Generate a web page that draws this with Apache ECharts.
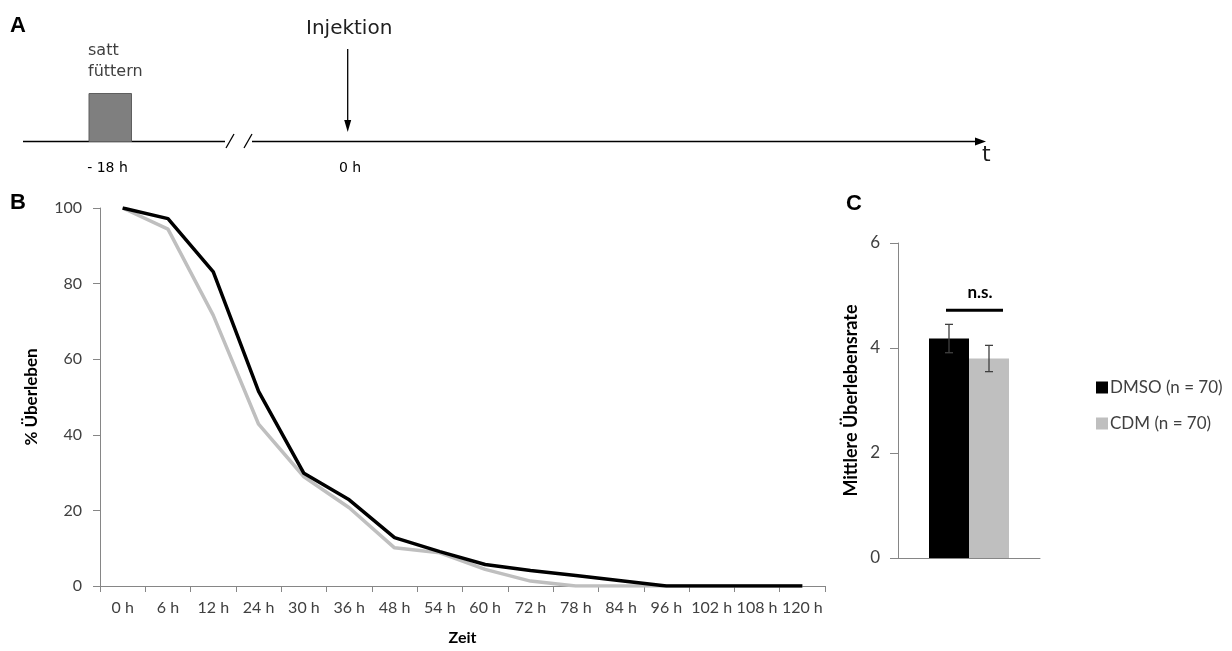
<!DOCTYPE html>
<html><head><meta charset="utf-8">
<script src="https://cdn.jsdelivr.net/npm/echarts@6/dist/echarts.min.js"></script>
<style>html,body{margin:0;padding:0;background:#fff}#c{width:1232px;height:651px}</style>
</head><body><div id="c"></div>
<script>
// ---- data ----
const timeLabels = ['0 h','6 h','12 h','24 h','30 h','36 h','48 h','54 h','60 h','72 h','78 h','84 h','96 h','102 h','108 h','120 h'];
const dmsoSurvival = [100, 97.2, 83.1, 51.5, 29.8, 22.8, 12.8, 9.1, 5.7, 4.1, 2.8, 1.4, 0, 0, 0, 0];
const cdmSurvival  = [100, 94.4, 71.6, 42.8, 28.9, 20.7, 10.1, 8.8, 4.4, 1.3, 0, 0, 0, 0, 0, 0];
const groupNames = ['DMSO (n = 70)', 'CDM (n = 70)'];
const meanSurvival = [4.18, 3.80];
const meanError = [0.27, 0.25];
const sigLevel = 4.72;
const sigLabel = 'n.s.';

// ---- styles ----
const BLACK = '#000000', GRAY = '#bfbfbf', AXIS = '#868686', LABEL = '#404040';
const LFONT = 'Lato, "Open Sans", sans-serif';
const BAR_W = 40;

function errRender(offset) {
  return function (params, api) {
    const x = api.coord([api.value(0), 0])[0] + offset;
    const hi = api.coord([api.value(0), api.value(1) + api.value(2)])[1];
    const lo = api.coord([api.value(0), api.value(1) - api.value(2)])[1];
    const st = {stroke: '#404040', lineWidth: 1.3};
    return {type: 'group', children: [
      {type: 'line', shape: {x1: x, y1: hi, x2: x, y2: lo}, style: st},
      {type: 'line', shape: {x1: x - 4, y1: hi, x2: x + 4, y2: hi}, style: st},
      {type: 'line', shape: {x1: x - 4, y1: lo, x2: x + 4, y2: lo}, style: st}
    ]};
  };
}
function sigRender(params, api) {
  const p = api.coord([api.value(0), api.value(1)]);
  const t = api.coord([api.value(0), api.value(1) + 0.34]);
  return {type: 'group', children: [
    {type: 'line', shape: {x1: p[0] - 23, y1: p[1], x2: p[0] + 34, y2: p[1]}, style: {stroke: BLACK, lineWidth: 3}},
    {type: 'text', style: {text: sigLabel, x: p[0] + 11, y: t[1], align: 'center', verticalAlign: 'middle',
      font: 'bold 17px ' + LFONT, fill: BLACK}}
  ]};
}

const chart = echarts.init(document.getElementById('c'), null, {renderer: 'canvas'});
const A = 'DejaVu Sans, sans-serif';
const option = {
  backgroundColor: '#fff',
  animation: false,
  textStyle: {fontFamily: LFONT},
  legend: {
    data: groupNames, orient: 'vertical', left: 1091, top: 374,
    itemWidth: 12, itemHeight: 12, itemGap: 19, icon: 'rect',
    textStyle: {fontSize: 17, color: LABEL, fontFamily: LFONT, padding: [0, 0, 0, -3]}
  },
  grid: [
    {left: 100, top: 208, width: 725, height: 379, containLabel: false},
    {left: 898, top: 243, width: 142, height: 315, containLabel: false}
  ],
  xAxis: [
    {type: 'category', gridIndex: 0, data: timeLabels, boundaryGap: true,
     name: 'Zeit', nameLocation: 'middle', nameGap: 44,
     nameTextStyle: {fontWeight: 'bold', fontSize: 16, color: BLACK, fontFamily: LFONT},
     axisLine: {lineStyle: {color: AXIS, width: 1}},
     axisTick: {show: true, length: 6, lineStyle: {color: AXIS}, alignWithLabel: false},
     axisLabel: {interval: 0, fontSize: 16, color: LABEL, margin: 14, fontFamily: LFONT}},
    {type: 'category', gridIndex: 1, data: ['Mittel'],
     axisLine: {lineStyle: {color: AXIS, width: 1}},
     axisTick: {show: false}, axisLabel: {show: false}}
  ],
  yAxis: [
    {type: 'value', gridIndex: 0, min: 0, max: 100, interval: 20,
     name: '% Überleben', nameLocation: 'middle', nameGap: 60,
     nameTextStyle: {fontWeight: 'bold', fontSize: 17, color: BLACK, fontFamily: LFONT},
     axisLine: {show: true, lineStyle: {color: AXIS}},
     axisTick: {show: true, length: 7, lineStyle: {color: AXIS}},
     splitLine: {show: false},
     axisLabel: {fontSize: 16, color: LABEL, margin: 18, fontFamily: LFONT}},
    {type: 'value', gridIndex: 1, min: 0, max: 6, interval: 2,
     name: 'Mittlere Überlebensrate', nameLocation: 'middle', nameGap: 38,
     nameTextStyle: {fontWeight: 'bold', fontSize: 18, color: BLACK, fontFamily: LFONT},
     axisLine: {show: true, lineStyle: {color: AXIS}},
     axisTick: {show: true, length: 8, lineStyle: {color: AXIS}},
     splitLine: {show: false},
     axisLabel: {fontSize: 17, color: LABEL, margin: 18, fontFamily: LFONT}}
  ],
  series: [
    {name: groupNames[0], type: 'line', xAxisIndex: 0, yAxisIndex: 0, data: dmsoSurvival,
     symbol: 'none', lineStyle: {color: BLACK, width: 3.5}, itemStyle: {color: BLACK}, z: 3},
    {name: groupNames[1], type: 'line', xAxisIndex: 0, yAxisIndex: 0, data: cdmSurvival,
     symbol: 'none', lineStyle: {color: GRAY, width: 3.5}, itemStyle: {color: GRAY}, z: 2},
    {name: groupNames[0], type: 'bar', xAxisIndex: 1, yAxisIndex: 1, data: [meanSurvival[0]],
     barWidth: BAR_W, barGap: '0%', itemStyle: {color: BLACK}},
    {name: groupNames[1], type: 'bar', xAxisIndex: 1, yAxisIndex: 1, data: [meanSurvival[1]],
     barWidth: BAR_W, barGap: '0%', itemStyle: {color: GRAY}},
    {type: 'custom', xAxisIndex: 1, yAxisIndex: 1, renderItem: errRender(-BAR_W / 2),
     data: [[0, meanSurvival[0], meanError[0]]], z: 5, silent: true},
    {type: 'custom', xAxisIndex: 1, yAxisIndex: 1, renderItem: errRender(BAR_W / 2),
     data: [[0, meanSurvival[1], meanError[1]]], z: 5, silent: true},
    {type: 'custom', xAxisIndex: 1, yAxisIndex: 1, renderItem: sigRender,
     data: [[0, sigLevel]], z: 5, silent: true}
  ],
  graphic: [
    // panel letters
    {type: 'text', style: {text: 'A', x: 10, y: 15, font: 'bold 22px "Liberation Sans", Arial, sans-serif', fill: BLACK}},
    {type: 'text', style: {text: 'B', x: 10, y: 192, font: 'bold 22px "Liberation Sans", Arial, sans-serif', fill: BLACK}},
    {type: 'text', style: {text: 'C', x: 846, y: 193, font: 'bold 22px "Liberation Sans", Arial, sans-serif', fill: BLACK}},
    // timeline schematic (panel A)
    {type: 'line', shape: {x1: 23, y1: 141.5, x2: 225, y2: 141.5}, style: {stroke: BLACK, lineWidth: 1.3}},
    {type: 'line', shape: {x1: 226, y1: 148, x2: 234, y2: 134}, style: {stroke: BLACK, lineWidth: 1.3}},
    {type: 'line', shape: {x1: 244, y1: 148, x2: 252, y2: 134}, style: {stroke: BLACK, lineWidth: 1.3}},
    {type: 'line', shape: {x1: 252, y1: 141.5, x2: 978, y2: 141.5}, style: {stroke: BLACK, lineWidth: 1.3}},
    {type: 'polygon', shape: {points: [[986, 141.5], [975, 137.5], [975, 145.5]]}, style: {fill: BLACK}},
    {type: 'rect', shape: {x: 89, y: 93.5, width: 42.5, height: 48}, style: {fill: '#7f7f7f', stroke: '#5f5f5f', lineWidth: 1}},
    {type: 'line', shape: {x1: 347.7, y1: 49, x2: 347.7, y2: 124}, style: {stroke: BLACK, lineWidth: 1.3}},
    {type: 'polygon', shape: {points: [[347.7, 132], [344.2, 120], [351.2, 120]]}, style: {fill: BLACK}},
    {type: 'text', style: {text: 'satt', x: 88, y: 43, font: '16px ' + A, fill: '#404040'}},
    {type: 'text', style: {text: 'füttern', x: 88, y: 64, font: '16px ' + A, fill: '#404040'}},
    {type: 'text', style: {text: 'Injektion', x: 306, y: 19, font: '20px ' + A, fill: '#202020'}},
    {type: 'text', style: {text: '- 18 h', x: 107.5, y: 168, align: 'center', verticalAlign: 'middle', font: '14px ' + A, fill: '#000'}},
    {type: 'text', style: {text: '0 h', x: 350, y: 168, align: 'center', verticalAlign: 'middle', font: '14px ' + A, fill: '#000'}},
    {type: 'text', style: {text: 't', x: 982, y: 144, font: '22px ' + A, fill: '#202020'}}
  ]
};
chart.setOption(option);
</script></body></html>
